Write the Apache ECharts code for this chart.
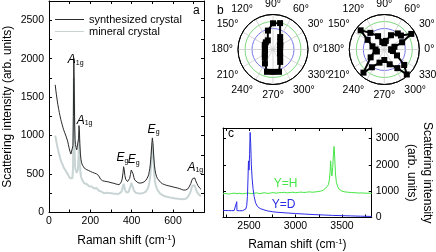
<!DOCTYPE html>
<html><head><meta charset="utf-8">
<script src="https://cdn.jsdelivr.net/npm/echarts@6/dist/echarts.min.js"></script>
<style>html,body{margin:0;padding:0;background:#fff}#c{width:436px;height:252px}</style>
</head><body><div id="c"></div>
<script>
const FONT = "'Liberation Sans', Arial, sans-serif";

// ---------- panel a : Raman spectra ----------
const synthesized = [[30,1660],[33,1590],[36,1530],[40,1450],[43,1400],[47,1340],[50,1300],[53,1260],[57,1210],[60,1180],[64,1140],[67,1110],[71,1075],[75,1045],[78,1020],[82,995],[86,970],[90,930],[94,880],[98,830],[102,790],[106,760],[110,735],[113,745],[116,870],[118,1250],[120,2000],[122,1700],[124,1150],[126,950],[128,885],[131,845],[134,815],[137,800],[140,830],[143,960],[145,1130],[147,1080],[149,900],[152,760],[155,685],[158,645],[162,615],[166,595],[170,580],[175,565],[180,560],[185,552],[190,548],[195,540],[200,535],[205,528],[210,522],[215,515],[220,512],[225,505],[230,502],[235,495],[240,480],[245,455],[250,432],[255,418],[260,412],[265,410],[270,406],[280,402],[290,396],[300,388],[310,382],[320,374],[330,366],[340,362],[345,372],[350,398],[354,435],[358,515],[361,595],[364,560],[367,482],[371,432],[375,412],[380,402],[385,412],[390,442],[394,492],[398,552],[401,572],[404,548],[407,502],[411,452],[415,422],[420,404],[430,388],[440,382],[450,386],[460,398],[470,422],[478,462],[482,490],[485,530],[488,575],[490,620],[494,740],[497,870],[500,970],[503,900],[506,760],[510,620],[513,555],[516,510],[520,472],[525,440],[530,420],[540,392],[550,372],[560,362],[570,352],[580,346],[590,340],[600,332],[610,326],[620,320],[630,312],[640,302],[650,292],[660,292],[670,302],[674,315],[678,332],[682,350],[686,375],[690,410],[695,440],[700,460],[705,450],[710,412],[715,380],[720,352],[725,332],[730,315],[735,302]];
const mineral = [[30,1000],[33,960],[36,935],[40,860],[43,840],[47,780],[50,750],[53,715],[57,690],[60,655],[64,630],[67,615],[71,585],[75,565],[78,555],[82,530],[86,520],[90,495],[94,480],[98,460],[102,445],[106,430],[110,425],[113,445],[116,560],[118,900],[120,1750],[122,1400],[124,800],[126,610],[128,565],[131,540],[134,515],[137,530],[140,560],[143,750],[145,1000],[147,900],[149,650],[152,520],[155,465],[158,440],[162,415],[166,405],[170,380],[174,390],[178,365],[182,370],[186,350],[190,358],[194,340],[198,345],[202,330],[206,338],[210,320],[214,330],[218,312],[222,322],[226,305],[230,318],[234,300],[238,296],[242,282],[246,285],[250,268],[254,272],[258,255],[262,265],[266,250],[270,260],[275,245],[280,258],[285,240],[290,252],[295,236],[300,250],[305,232],[310,246],[315,230],[320,244],[325,228],[330,242],[335,232],[340,246],[345,250],[350,268],[354,295],[358,340],[361,372],[364,345],[367,300],[371,275],[375,258],[380,252],[385,266],[390,292],[394,340],[398,385],[401,398],[404,372],[407,322],[411,284],[415,262],[420,255],[425,240],[430,250],[435,232],[440,246],[445,234],[450,248],[455,240],[460,258],[465,250],[470,275],[474,285],[478,315],[482,345],[485,385],[488,430],[490,480],[494,640],[497,800],[500,900],[503,830],[506,650],[510,480],[513,400],[516,360],[520,322],[525,290],[530,275],[535,255],[540,248],[545,232],[550,232],[555,218],[560,222],[565,208],[570,215],[575,202],[580,210],[585,196],[590,205],[595,192],[600,200],[605,186],[610,195],[615,182],[620,190],[625,178],[630,186],[635,175],[640,184],[645,172],[650,180],[655,174],[660,185],[665,182],[670,196],[674,210],[678,225],[682,250],[686,280],[690,320],[695,352],[700,366],[705,350],[710,312],[715,272],[720,248],[725,232],[730,225],[735,212]];
const xLabelsA = [0, 200, 400, 600];
const xTicksA = [0, 100, 200, 300, 400, 500, 600, 700];
const yLabelsA = [0, 500, 1000, 1500, 2000, 2500];
const yTicksA = [0, 250, 500, 750, 1000, 1250, 1500, 1750, 2000, 2250, 2500, 2750];
const peakLabelX = [129, 172, 355, 410, 506, 708];
const peakLabelY = [1985, 1196, 712, 687, 1081, 585];
const peakMain = ['A', 'A', 'E', 'E', 'E', 'A'];
const peakSub = ['1g', '1g', 'g', 'g', 'g', '1g'];

// ---------- panel b : polar plots [radius, angle] ----------
const polarLeft = [[0.20,0],[0.21,15],[0.24,30],[0.29,45],[0.41,60],[0.78,75],[0.75,90],[0.56,105],[0.30,120],[0.29,135],[0.27,150],[0.24,165],[0.23,180],[0.24,195],[0.27,210],[0.33,225],[0.46,240],[0.66,255],[0.64,270],[0.66,285],[0.41,300],[0.29,315],[0.23,330],[0.21,345],[0.20,360]];
const polarRight = [[0.20,0],[0.30,15],[0.55,22],[0.89,30],[0.62,40],[0.60,50],[0.45,65],[0.25,80],[0.18,90],[0.22,105],[0.42,115],[0.62,130],[0.87,141],[0.55,150],[0.35,165],[0.25,180],[0.22,195],[0.45,210],[0.89,228],[0.62,235],[0.40,250],[0.30,270],[0.45,290],[0.65,305],[0.96,312],[0.72,322],[0.40,335],[0.25,350],[0.20,360]];

// ---------- panel c : O-H / O-D stretching ----------
const specYH = [[2220,900],[2250,915],[2280,890],[2310,910],[2340,925],[2370,905],[2400,920],[2430,900],[2460,915],[2490,930],[2520,905],[2550,920],[2580,935],[2610,910],[2640,925],[2670,940],[2700,915],[2730,930],[2760,945],[2790,925],[2820,940],[2850,950],[2880,955],[2910,935],[2940,950],[2970,960],[3000,940],[3030,955],[3060,965],[3090,950],[3120,960],[3150,975],[3180,960],[3210,970],[3240,985],[3270,1000],[3300,1040],[3320,1100],[3340,1170],[3355,1260],[3365,1450],[3372,1750],[3378,2150],[3385,1750],[3392,1580],[3400,1900],[3408,2400],[3415,2700],[3422,2250],[3430,1650],[3440,1330],[3455,1160],[3470,1070],[3500,1000],[3530,975],[3560,960],[3600,950],[3640,940],[3680,930],[3720,935],[3760,920],[3800,925],[3820,915]];
const specYD = [[2220,270],[2250,265],[2280,262],[2310,260],[2340,262],[2360,258],[2366,262],[2368,600],[2370,262],[2400,255],[2430,258],[2450,268],[2465,320],[2475,450],[2483,800],[2489,1500],[2494,2150],[2500,1800],[2506,2400],[2512,3230],[2518,2800],[2525,2000],[2533,1500],[2543,1100],[2555,800],[2570,560],[2590,420],[2620,340],[2660,290],[2700,250],[2750,220],[2800,200],[2900,175],[3000,150],[3100,130],[3200,110],[3300,95],[3400,80],[3500,70],[3600,60],[3700,50],[3820,40]];
const xLabelsC = [2500, 3000, 3500];
const xTicksC = [2250, 2500, 2750, 3000, 3250, 3500, 3750];
const yLabelsC = [0, 1000, 2000, 3000];
const tagYH = {text: 'Y=H', x: 2892, y: 1283};
const tagYD = {text: 'Y=D', x: 2871, y: 470};

const BLACK = '#000';
const plain = v => String(v);
const axisBase = (extra) => Object.assign({
  type: 'value', splitLine: {show: false},
  axisLine: {show: true, onZero: false, lineStyle: {color: BLACK, width: 1}},
  nameTextStyle: {color: BLACK, fontSize: 12, fontFamily: FONT}
}, extra);
const lbl = (vals, margin) => ({customValues: vals, margin: margin, color: BLACK, fontSize: 10.5, fontFamily: FONT, formatter: plain});
const tck = (vals) => ({inside: true, length: 3, customValues: vals, lineStyle: {color: BLACK}});

const chart = echarts.init(document.getElementById('c'), null, {renderer: 'canvas'});
const supRich = {s: {fontSize: 8, fontFamily: FONT, color: BLACK, padding: [0, 0, 7, 0]}};

const option = {
  animation: false,
  backgroundColor: '#fff',
  textStyle: {fontFamily: FONT},
  grid: [
    {left: 49, top: 1, width: 155, height: 216},
    {left: 223, top: 128, width: 155, height: 90}
  ],
  polar: [
    {center: [273, 49.5], radius: 35},
    {center: [384.3, 49.5], radius: 35}
  ],
  angleAxis: [0, 1].map(i => ({
    polarIndex: i, type: 'value', min: 0, max: 360, interval: 30,
    startAngle: 0, clockwise: false,
    axisLine: {show: true, lineStyle: {color: BLACK, width: 1}},
    axisTick: {show: false},
    axisLabel: {margin: 5, color: BLACK, fontSize: 10.5, fontFamily: FONT, formatter: v => v + '°'},
    splitLine: {show: true, lineStyle: {color: '#cccccc', width: 0.8}}
  })),
  radiusAxis: [0, 1].map(i => ({
    polarIndex: i, type: 'value', min: 0, max: 1, interval: 0.2,
    axisLine: {show: false}, axisTick: {show: false}, axisLabel: {show: false},
    splitLine: {show: true, lineStyle: {color: ['rgba(0,0,0,0)', 'rgba(0,0,0,0)', 'rgba(0,0,0,0)', '#7777ee', '#7fd97f', '#000'], width: 1}}
  })),
  xAxis: [
    axisBase({gridIndex: 0, min: 0, max: 750, position: 'bottom',
      axisTick: tck(xTicksA), axisLabel: lbl(xLabelsA, 3),
      name: 'Raman shift (cm{s|-1})', nameLocation: 'middle', nameGap: 21,
      nameTextStyle: {color: BLACK, fontSize: 12, fontFamily: FONT, rich: supRich}}),
    axisBase({gridIndex: 0, min: 0, max: 750, position: 'top',
      axisTick: tck(xTicksA), axisLabel: {show: false}}),
    axisBase({gridIndex: 1, min: 2220, max: 3820, position: 'bottom',
      axisTick: tck(xTicksC), axisLabel: lbl(xLabelsC, 3),
      name: 'Raman shift (cm{s|-1})', nameLocation: 'middle', nameGap: 20,
      nameTextStyle: {color: BLACK, fontSize: 12, fontFamily: FONT, rich: supRich}}),
    axisBase({gridIndex: 1, min: 2220, max: 3820, position: 'top',
      axisTick: tck(xTicksC), axisLabel: {show: false}})
  ],
  yAxis: [
    axisBase({gridIndex: 0, min: 0, max: 2750, position: 'left',
      axisTick: tck(yTicksA), axisLabel: lbl(yLabelsA, 5),
      name: 'Scattering intensity (arb. units)', nameLocation: 'middle', nameGap: 35}),
    axisBase({gridIndex: 0, min: 0, max: 2750, position: 'right',
      axisTick: tck(yTicksA), axisLabel: {show: false}}),
    axisBase({gridIndex: 1, min: 0, max: 3400, position: 'right',
      axisTick: tck(yLabelsC), axisLabel: lbl(yLabelsC, 4),
      name: 'Scattering intensity\n(arb. units)', nameLocation: 'middle', nameGap: 26, nameRotate: -90,
      nameTextStyle: {color: BLACK, fontSize: 12, fontFamily: FONT, lineHeight: 16}}),
    axisBase({gridIndex: 1, min: 0, max: 3400, position: 'left',
      axisTick: tck(yLabelsC), axisLabel: {show: false}})
  ],
  legend: {
    left: 50, top: 9, orient: 'vertical', icon: 'rect', itemWidth: 29, itemHeight: 1, itemGap: 1,
    textStyle: {fontSize: 11, fontFamily: FONT, color: BLACK},
    data: ['synthesized crystal', 'mineral crystal']
  },
  graphic: [
    {type: 'text', left: 193, top: 5, style: {text: 'a', fontSize: 12, fontFamily: FONT, fill: BLACK}},
    {type: 'text', left: 217, top: 5, style: {text: 'b', fontSize: 12, fontFamily: FONT, fill: BLACK}},
    {type: 'text', left: 228, top: 128, style: {text: 'c', fontSize: 12, fontFamily: FONT, fill: BLACK}}
  ],
  series: [
    {name: 'mineral crystal', type: 'line', xAxisIndex: 0, yAxisIndex: 0, data: mineral,
     symbol: 'none', lineStyle: {color: '#c9d4d4', width: 2}, itemStyle: {color: '#c9d4d4'}, z: 2},
    {name: 'synthesized crystal', type: 'line', xAxisIndex: 0, yAxisIndex: 0, data: synthesized,
     symbol: 'none', lineStyle: {color: '#2b2b2b', width: 1}, itemStyle: {color: '#2b2b2b'}, z: 3,
     markPoint: {
       symbol: 'circle', symbolSize: 0, silent: true,
       label: {show: true, position: 'inside', color: BLACK, fontFamily: FONT,
         rich: {i: {fontStyle: 'italic', fontSize: 12, fontFamily: FONT, color: BLACK},
                s: {fontSize: 7, fontFamily: FONT, color: BLACK, padding: [6, 0, 0, 0]}}},
       data: peakLabelX.map((x, i) => ({coord: [x, peakLabelY[i]],
         label: {formatter: '{i|' + peakMain[i] + '}{s|' + peakSub[i] + '}'}}))
     }},
    {type: 'line', coordinateSystem: 'polar', polarIndex: 0, data: polarLeft,
     symbol: 'rect', symbolSize: 6, lineStyle: {color: BLACK, width: 2}, itemStyle: {color: BLACK}},
    {type: 'line', coordinateSystem: 'polar', polarIndex: 1, data: polarRight,
     symbol: 'rect', symbolSize: 6, lineStyle: {color: BLACK, width: 2}, itemStyle: {color: BLACK}},
    {type: 'line', xAxisIndex: 2, yAxisIndex: 2, data: specYH, symbol: 'none',
     lineStyle: {color: '#45e645', width: 1}, itemStyle: {color: '#45e645'},
     markPoint: {symbol: 'circle', symbolSize: 0, silent: true,
       label: {show: true, position: 'inside', color: '#45e645', fontSize: 12, fontFamily: FONT, formatter: tagYH.text},
       data: [{coord: [tagYH.x, tagYH.y]}]}},
    {type: 'line', xAxisIndex: 2, yAxisIndex: 2, data: specYD, symbol: 'none',
     lineStyle: {color: '#2c2ce6', width: 1}, itemStyle: {color: '#2c2ce6'},
     markPoint: {symbol: 'circle', symbolSize: 0, silent: true,
       label: {show: true, position: 'inside', color: '#2c2ce6', fontSize: 12, fontFamily: FONT, formatter: tagYD.text},
       data: [{coord: [tagYD.x, tagYD.y]}]}}
  ]
};
chart.setOption(option);
</script></body></html>
